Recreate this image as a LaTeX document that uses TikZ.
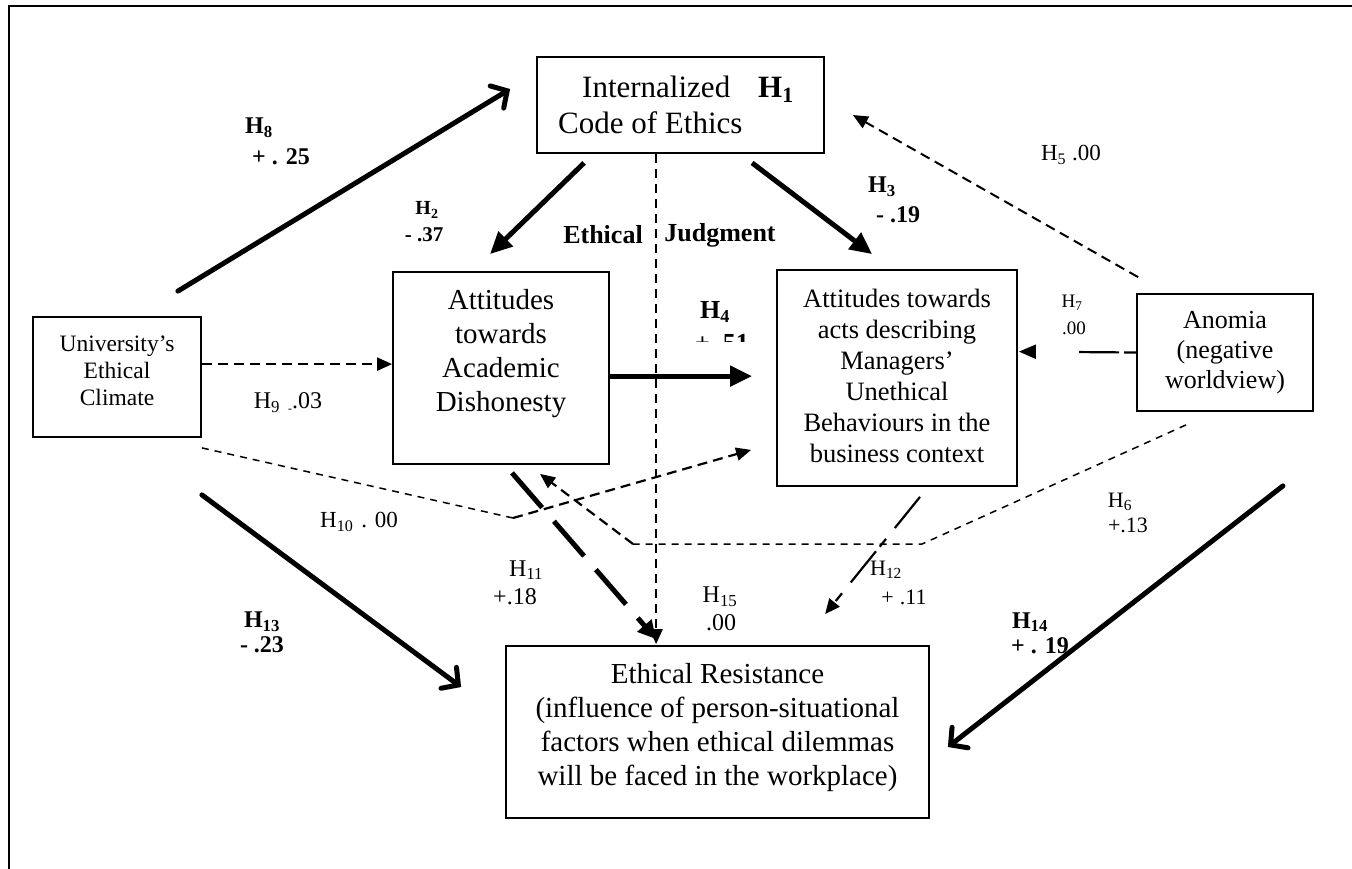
\documentclass[tikz,border=0pt]{standalone}
\usepackage{fontspec}
\setmainfont{Liberation Serif}
\usetikzlibrary{arrows.meta,calc}
\newcommand{\setfs}[2]{\fontsize{#1}{#2}\selectfont}
\begin{document}
\begin{tikzpicture}[x=1pt,y=-1pt,
  box/.style={draw, line width=1.8pt, inner sep=0pt},
  txt/.style={inner sep=0pt, align=center},
  lab/.style={inner sep=0pt, font=\setfs{24}{28}},
  blab/.style={inner sep=0pt, font=\setfs{24}{28}\bfseries},
  thickarr/.style={line width=5pt, line cap=round, -{Straight Barb[length=12pt,width=26pt,line cap=round]}},
  solidarr/.style={line width=5pt, -{Triangle[length=22pt,width=20pt]}},
  dasharr/.style={line width=2.2pt, dash pattern=on 10pt off 6pt, -{Triangle[length=15pt,width=13pt]}},
  thindash/.style={line width=1.5pt, dash pattern=on 7pt off 6pt},
  longdash/.style={line width=5pt, dash pattern=on 46pt off 18pt, -{Triangle[length=18pt,width=18pt]}}
]
\useasboundingbox (0,0) rectangle (1352,868);
\fill[white] (0,0) rectangle (1352,868);
% outer frame (runs off the right and bottom edges)
\draw[line width=2.5pt] (9,900) -- (9,6) -- (1400,6);

% boxes
\node[box, minimum width=287pt, minimum height=96pt] (int) at (680.5,105) {};
\node[box, minimum width=216pt, minimum height=192pt] (ad) at (501,368) {};
\node[box, minimum width=240pt, minimum height=216pt] (am) at (897,378) {};
\node[box, minimum width=176pt, minimum height=117pt] (ano) at (1225,352.5) {};
\node[box, minimum width=168pt, minimum height=120pt] (uni) at (117,377) {};
\node[box, minimum width=423pt, minimum height=172pt] (er) at (717.5,732) {};

% box texts
\node[inner sep=0pt, anchor=base west, font=\setfs{31}{36}] (intA) at (582,97) {Internalized};
\node[inner sep=0pt, anchor=base west, font=\setfs{31}{36}\bfseries] (intB) at (758,97) {H\textsubscript{1}};
\node[inner sep=0pt, anchor=base west, font=\setfs{31}{36}] (intC) at (558,133) {Code of Ethics};
\node[txt, font=\setfs{29}{34}] (adT) at (501,354) {Attitudes\\towards\\Academic\\Dishonesty};
\node[txt, font=\setfs{26.5}{31}] (amT) at (897,376) {Attitudes towards\\acts describing\\Managers’\\Unethical\\Behaviours in the\\business context};
\node[txt, font=\setfs{26}{30}] (anoT) at (1225,353) {Anomia\\(negative\\worldview)};
\node[txt, font=\setfs{23.5}{27}] (uniT) at (117,371) {University’s\\Ethical\\Climate};
\node[txt, font=\setfs{29}{34}] (erT) at (717.5,728) {Ethical Resistance\\(influence of person-situational\\factors when ethical dilemmas\\will be faced in the workplace)};

% connectors
\draw[thickarr] ($(uni.north east)+(-24,-25)$) -- ($(int.west)+(-26,-16)$);
\draw[solidarr] ($(int.south west)+(48,9)$) -- ($(ad.north)+(-11,-17)$);
\draw[solidarr] ($(int.south west)+(216,9)$) -- ($(am.north west)+(96,-15)$);
\draw[dasharr, line width=2pt, dash pattern=on 9pt off 6pt] ($(int.south west)+(120,0)$) -- ($(er.north west)+(151,-1)$);
\draw[dasharr, line width=2pt] ($(ano.north west)+(2,-16)$) -- ($(int.east)+(28,10)$);
\draw[dasharr] ($(uni.north east)+(0,48)$) -- ($(ad.north west)+(0,93)$);
\draw[solidarr] ($(ad.north east)+(0,105)$) -- ($(am.north west)+(-24,107)$);
\draw[line width=2.2pt, dash pattern=on 12pt off 5pt on 40pt off 80pt, -{Triangle[length=17pt,width=14pt]}] (ano.west) -- ($(am.north east)+(1,82.5)$);
% H10
\coordinate (k10) at (513,518);
\draw[thindash] ($(uni.south east)+(0,10)$) -- (k10);
\draw[dasharr] (k10) -- ($(am.south west)+(-25,-37)$);
% H6
\coordinate (k6a) at (922,544);
\coordinate (k6b) at (633,544);
\draw[thindash] ($(ano.south)+(-39,13)$) -- (k6a) -- (k6b);
\draw[dasharr] (k6b) -- ($(ad.south)+(39,9)$);
% H11
\draw[longdash] ($(ad.south)+(11,8)$) -- ($(er.north west)+(151,-6)$);
% H12
\draw[dasharr, dash pattern=on 40pt off 14pt on 10pt off 6pt] ($(am.south)+(23,10)$) -- ($(er.north west)+(320,-31)$);
% H13, H14
\draw[thickarr] ($(uni.south east)+(0,57)$) -- ($(er.west)+(-44,-45)$);
\draw[thickarr] ($(ano.south east)+(-31,74)$) -- ($(er.east)+(18,15)$);

% labels
\node[blab] (l8a) at (259,128) {H\textsubscript{8}};
\node[blab] (l8b) at (281,157) {+ . 25};
\node[blab, font=\setfs{20}{24}\bfseries] (l2a) at (427,210) {H\textsubscript{2}};
\node[blab, font=\setfs{21}{24}\bfseries] (l2b) at (424,235) {- .37};
\node[blab, font=\setfs{26}{30}\bfseries] (ej1) at (603,235) {Ethical};
\node[blab, font=\setfs{26}{30}\bfseries] (ej2) at (720,235) {Judgment};
\node[blab] (l3a) at (882,187) {H\textsubscript{3}};
\node[blab] (l3b) at (898,215) {- .19};
\node[lab, font=\setfs{23}{27}] (l5) at (1071,155) {H\textsubscript{5}\hspace{6pt}.00};
\node[blab, font=\setfs{26}{30}\bfseries] (l4a) at (715,312) {H\textsubscript{4}};
\begin{scope}
\clip (690,320) rectangle (770,341);
\node[blab, anchor=base, font=\setfs{26}{30}\bfseries] (l4b) at (722,351) {+ .51};
\end{scope}
\node[lab, font=\setfs{19}{22}] (l7a) at (1072,303) {H\textsubscript{7}};
\node[lab, font=\setfs{19}{22}] (l7b) at (1074,328) {.00};
\node[lab] (l9) at (288,403) {H\textsubscript{9}\hspace{8pt}{\setfs{12}{12}\raisebox{-4pt}{-}}.03};
\node[lab, font=\setfs{23}{27}] (l10) at (359,522) {H\textsubscript{10}\hspace{8pt}. 00};
\node[blab] (l13a) at (262,622) {H\textsubscript{13}};
\node[blab] (l13b) at (262,645) {- .23};
\node[lab] (l11a) at (526,570) {H\textsubscript{11}};
\node[lab] (l11b) at (515,597) {+.18};
\node[lab] (l15a) at (720,597) {H\textsubscript{15}};
\node[lab] (l15b) at (721,623) {.00};
\node[lab, font=\setfs{22}{26}] (l12a) at (886,570) {H\textsubscript{12}};
\node[lab, font=\setfs{22}{26}] (l12b) at (904,597) {+\hspace{6pt}.11};
\node[lab, font=\setfs{22}{26}] (l6a) at (1120,502) {H\textsubscript{6}};
\node[lab, font=\setfs{22}{26}] (l6b) at (1128,525) {+.13};
\node[blab] (l14a) at (1030,622) {H\textsubscript{14}};
\node[blab] (l14b) at (1040,646) {+ . 19};
\end{tikzpicture}
\end{document}
